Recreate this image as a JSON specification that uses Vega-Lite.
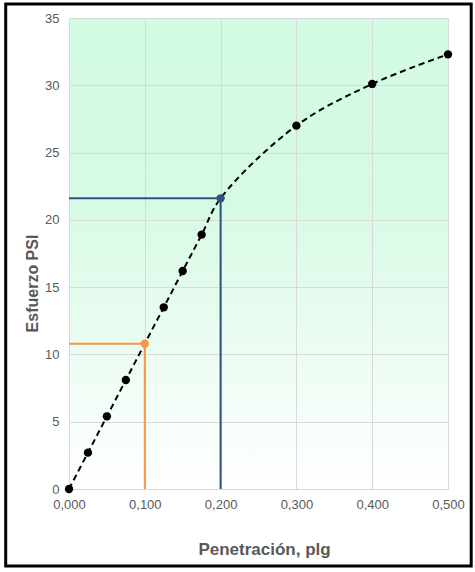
{
  "$schema": "https://vega.github.io/schema/vega-lite/v6.json",
  "width": 379,
  "height": 471,
  "autosize": {"type": "none"},
  "padding": {"left": 69, "top": 18, "right": 27, "bottom": 83},
  "background": "white",
  "config": {
    "locale": {"number": {"decimal": ",", "thousands": ".", "grouping": [3], "currency": ["", " €"]}},
    "view": {"stroke": null, "fill": {"gradient": "linear", "x1": 0, "y1": 0, "x2": 0, "y2": 1, "stops": [{"offset": 0, "color": "#d3fbe3"}, {"offset": 0.4, "color": "#d7fae5"}, {"offset": 1, "color": "#ffffff"}]}},
    "font": "Liberation Sans",
    "axis": {
      "labelFont": "Liberation Sans",
      "labelFontSize": 13,
      "labelColor": "#595959",
      "labelFlush": false,
      "titleFont": "Liberation Sans",
      "titleFontSize": 17,
      "titleFontWeight": "bold",
      "titleColor": "#595959",
      "gridColor": "#d9d9d9",
      "gridWidth": 1,
      "domain": false,
      "ticks": false,
      "tickSize": 0
    }
  },
  "datasets": {
    "puntos": [
      {"penetracion": 0.0, "esfuerzo": 0.0, "serie": "ensayo"},
      {"penetracion": 0.025, "esfuerzo": 2.7, "serie": "ensayo"},
      {"penetracion": 0.05, "esfuerzo": 5.4, "serie": "ensayo"},
      {"penetracion": 0.075, "esfuerzo": 8.1, "serie": "ensayo"},
      {"penetracion": 0.1, "esfuerzo": 10.8, "serie": "0,100"},
      {"penetracion": 0.125, "esfuerzo": 13.5, "serie": "ensayo"},
      {"penetracion": 0.15, "esfuerzo": 16.2, "serie": "ensayo"},
      {"penetracion": 0.175, "esfuerzo": 18.9, "serie": "ensayo"},
      {"penetracion": 0.2, "esfuerzo": 21.6, "serie": "0,200"},
      {"penetracion": 0.3, "esfuerzo": 27.0, "serie": "ensayo"},
      {"penetracion": 0.4, "esfuerzo": 30.1, "serie": "ensayo"},
      {"penetracion": 0.5, "esfuerzo": 32.3, "serie": "ensayo"}
    ],
    "referencias": [
      {"penetracion": 0.1, "esfuerzo": 10.8, "serie": "0,100"},
      {"penetracion": 0.2, "esfuerzo": 21.6, "serie": "0,200"}
    ]
  },
  "layer": [
    {
      "data": {"name": "puntos"},
      "mark": {"type": "line", "interpolate": "catmull-rom", "color": "black", "strokeWidth": 2, "strokeDash": [6, 4]},
      "encoding": {
        "x": {"field": "penetracion", "type": "quantitative", "scale": {"domain": [0, 0.5], "nice": false}, "axis": {"values": [0, 0.1, 0.2, 0.3, 0.4, 0.5], "format": ".3f", "title": "Penetración, plg", "labelAlign": "center", "labelPadding": 9, "titlePadding": 30, "titleX": 195, "grid": true}},
        "y": {"field": "esfuerzo", "type": "quantitative", "scale": {"domain": [0, 35], "nice": false}, "axis": {"values": [0, 5, 10, 15, 20, 25, 30, 35], "title": "Esfuerzo PSI", "titleFontSize": 16, "labelPadding": 10, "titlePadding": 4, "titleY": 265, "grid": true}}
      }
    },
    {
      "data": {"name": "referencias"},
      "mark": {"type": "rule", "strokeWidth": 2},
      "encoding": {
        "x": {"field": "penetracion", "type": "quantitative"},
        "y": {"field": "esfuerzo", "type": "quantitative"},
        "y2": {"datum": 0},
        "color": {"field": "serie", "type": "nominal", "scale": {"domain": ["ensayo", "0,100", "0,200"], "range": ["#000000", "#f79646", "#2f5283"]}, "legend": null}
      }
    },
    {
      "data": {"name": "referencias"},
      "mark": {"type": "rule", "strokeWidth": 2},
      "encoding": {
        "y": {"field": "esfuerzo", "type": "quantitative"},
        "x": {"field": "penetracion", "type": "quantitative"},
        "x2": {"datum": 0},
        "color": {"field": "serie", "type": "nominal", "legend": null}
      }
    },
    {
      "data": {"name": "puntos"},
      "mark": {"type": "point", "filled": true, "opacity": 1, "size": 70},
      "encoding": {
        "x": {"field": "penetracion", "type": "quantitative"},
        "y": {"field": "esfuerzo", "type": "quantitative"},
        "color": {"field": "serie", "type": "nominal", "legend": null}
      }
    },
    {
      "data": {"values": [{"marco": "borde", "izq": -0.0835, "der": 0.5306, "sup": 36.04, "inf": -5.73}]},
      "mark": {"type": "rect", "fill": null, "stroke": "black", "strokeWidth": 3, "clip": false},
      "encoding": {
        "x": {"field": "izq", "type": "quantitative"},
        "x2": {"field": "der"},
        "y": {"field": "sup", "type": "quantitative"},
        "y2": {"field": "inf"}
      }
    }
  ]
}
